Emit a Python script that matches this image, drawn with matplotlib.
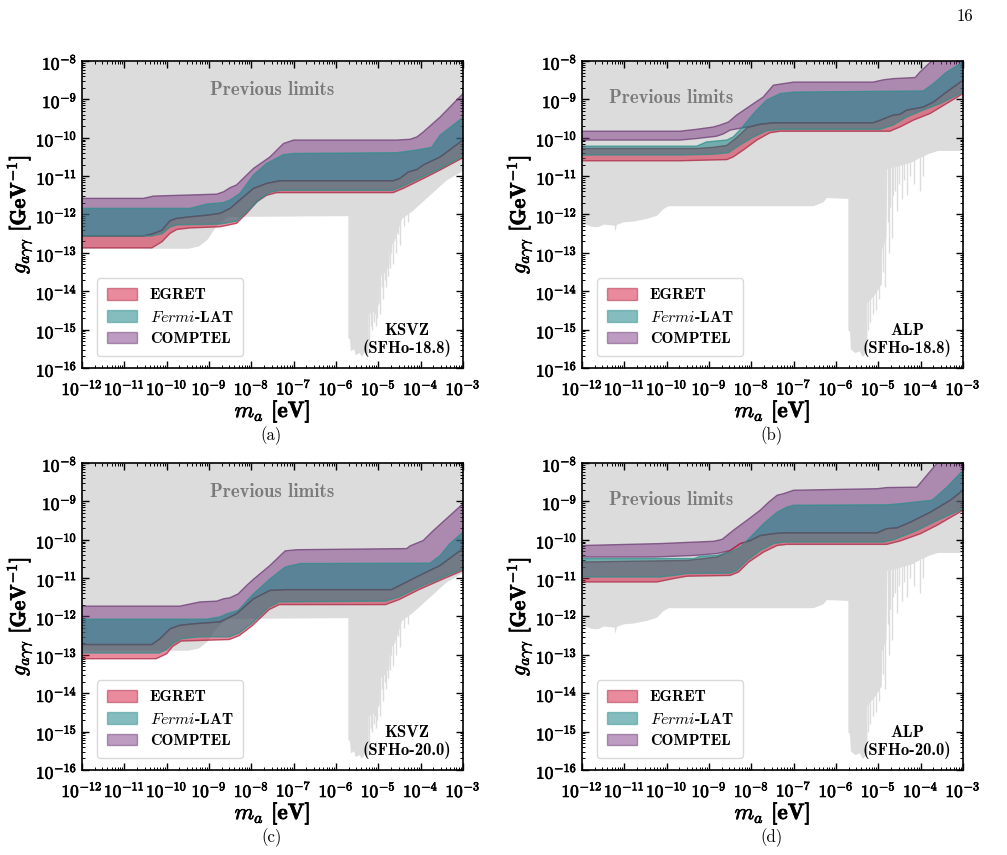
import numpy as np
import matplotlib
matplotlib.use('Agg')
import matplotlib.pyplot as plt
import matplotlib.patheffects as pe
from matplotlib.patches import Patch
from matplotlib.ticker import LogLocator, NullFormatter, FuncFormatter

plt.rcParams['font.family'] = 'cmb10'
plt.rcParams['mathtext.fontset'] = 'cm'
plt.rcParams['axes.unicode_minus'] = False

# all values are (log10 m_a [eV], log10 g [GeV^-1])

# previous limits: lower edge of the grey region
GRAY_KSVZ = [(-12, -12.88), (-9.5, -12.88), (-9.25, -12.82), (-9.05, -12.65), (-8.9, -12.4),
             (-8.75, -12.2), (-8.55, -12.05), (-5.72, -12.03), (-5.72, -15.2), (-5.68, -15.25),
             (-5.66, -15.55), (-5.58, -15.5), (-5.55, -15.65), (-5.45, -15.6), (-5.4, -15.7),
             (-5.32, -15.55), (-5.26, -15.65), (-5.24, -15.6), (-5.24, -14.6), (-5.1, -14.5),
             (-4.98, -14.3), (-4.97, -13.6), (-4.85, -13.5), (-4.75, -13.3), (-4.74, -12.9),
             (-4.6, -12.6), (-4.45, -12.1), (-4.2, -11.9), (-4.0, -11.7), (-3.7, -11.4),
             (-3.4, -11.1), (-3.0, -10.85)]
GRAY_ALP = [(-12, -12.28), (-11.9, -12.25), (-11.81, -12.3), (-11.7, -12.32), (-11.61, -12.31),
            (-11.5, -12.25), (-11.3, -12.27), (-11.24, -12.28), (-11.22, -12.45), (-11.19, -12.26),
            (-11.17, -12.25), (-11.02, -12.19), (-10.79, -12.17), (-10.47, -12.10), (-10.24, -12.02),
            (-10.08, -11.84), (-9.96, -11.77), (-6.54, -11.77), (-6.31, -11.67), (-6.23, -11.56),
            (-5.72, -11.58), (-5.72, -15.0), (-5.68, -15.05), (-5.66, -15.5), (-5.55, -15.6),
            (-5.45, -15.55), (-5.38, -15.7), (-5.3, -15.6), (-5.27, -15.6), (-5.27, -14.3),
            (-5.1, -14.1), (-4.93, -13.8), (-4.92, -12.9), (-4.82, -12.6), (-4.8, -10.8),
            (-4.5, -10.72), (-4.2, -10.62), (-4.0, -10.5), (-3.8, -10.4), (-3.6, -10.33),
            (-3.0, -10.33)]
SPIKES_KSVZ = [(-5.22, -15.3), (-5.18, -14.9), (-5.15, -15.0), (-5.11, -14.8), (-5.08, -14.6),
               (-5.05, -14.9), (-5.02, -14.7), (-4.95, -14.6), (-4.92, -13.9), (-4.88, -14.2),
               (-4.85, -13.7), (-4.81, -13.9), (-4.78, -13.6), (-4.72, -13.4), (-4.70, -13.0),
               (-4.66, -13.3), (-4.62, -12.7), (-4.58, -13.0), (-4.53, -12.5), (-4.49, -12.8),
               (-4.4, -12.3), (-4.3, -12.2)]
SPIKES_ALP = [(-5.25, -15.0), (-5.2, -14.8), (-5.12, -14.6), (-5.05, -14.5), (-4.98, -14.2),
              (-4.9, -13.5), (-4.85, -13.9), (-4.78, -12.2), (-4.75, -13.0), (-4.72, -11.8),
              (-4.68, -12.6), (-4.65, -11.5), (-4.6, -11.4), (-4.55, -11.9), (-4.5, -11.2),
              (-4.45, -11.6), (-4.4, -11.1), (-4.32, -11.5), (-4.25, -11.0), (-4.15, -11.2),
              (-4.02, -11.4), (-3.95, -11.0)]

# (a) KSVZ, SFHo-18.8
A_E_LO = [(-12, -12.87), (-10.35, -12.87), (-10.11, -12.71), (-9.92, -12.49), (-9.76, -12.39),
          (-9.45, -12.35), (-8.74, -12.32), (-8.35, -12.23), (-8.11, -11.97), (-7.87, -11.67),
          (-7.64, -11.50), (-7.4, -11.43), (-4.65, -11.43), (-4.41, -11.32), (-4.17, -11.19),
          (-3.86, -11.02), (-3.54, -10.84), (-3.0, -10.52)]
A_C_LO = [(-12, -12.56), (-10.55, -12.56), (-10.35, -12.51), (-10.11, -12.41), (-9.92, -12.16),
          (-9.76, -12.10), (-9.45, -12.06), (-9.06, -12.02), (-8.74, -11.97), (-8.50, -11.84),
          (-8.27, -11.62), (-7.95, -11.32), (-7.64, -11.19), (-7.32, -11.12), (-4.65, -11.12),
          (-4.49, -11.06), (-4.29, -10.89), (-4.09, -10.83), (-3.94, -10.71), (-3.54, -10.50),
          (-3.0, -10.06)]
A_E_HI = A_C_LO
A_F_LO = [(-12, -12.56), (-10.35, -12.56), (-10.11, -12.50), (-9.92, -12.33), (-9.76, -12.27),
          (-8.74, -12.25), (-8.35, -12.17), (-8.03, -11.85), (-7.8, -11.6), (-7.56, -11.42),
          (-7.32, -11.37), (-4.65, -11.37), (-4.41, -11.26), (-4.17, -11.13), (-3.86, -10.97),
          (-3.54, -10.80), (-3.0, -10.48)]
A_F_HI = [(-12, -11.84), (-9.45, -11.84), (-9.06, -11.73), (-8.66, -11.69), (-8.50, -11.62),
          (-8.27, -11.45), (-7.95, -10.97), (-7.64, -10.67), (-7.24, -10.44), (-7.0, -10.41),
          (-4.57, -10.39), (-4.09, -10.32), (-3.74, -10.25), (-3.54, -9.93), (-3.0, -9.47)]
A_C_HI = [(-12, -11.58), (-10.55, -11.58), (-10.31, -11.52), (-8.82, -11.47), (-8.66, -11.41),
          (-8.50, -11.30), (-8.35, -11.23), (-7.95, -10.80), (-7.56, -10.50), (-7.24, -10.15),
          (-7.0, -10.06), (-4.57, -10.06), (-4.25, -10.04), (-4.09, -9.98), (-3.94, -9.85),
          (-3.54, -9.46), (-3.0, -8.85)]

# (b) ALP, SFHo-18.8
B_E_LO = [(-12, -10.60), (-9.69, -10.60), (-8.58, -10.57), (-8.43, -10.50), (-8.19, -10.32),
          (-7.87, -10.06), (-7.56, -9.87), (-7.32, -9.83), (-4.73, -9.83), (-4.49, -9.72),
          (-4.17, -9.54), (-3.78, -9.37), (-3.39, -9.11), (-3.0, -8.85)]
B_E_HI = [(-12, -10.28), (-9.29, -10.28), (-8.9, -10.25), (-8.58, -10.2), (-8.35, -10.0),
          (-8.1, -9.74), (-7.8, -9.65), (-7.48, -9.61), (-5.12, -9.61), (-4.97, -9.55),
          (-4.65, -9.41), (-4.49, -9.39), (-4.33, -9.28), (-3.94, -9.20), (-3.7, -9.07),
          (-3.39, -8.81), (-3.0, -8.50)]
B_F_LO = [(-12, -10.45), (-9.69, -10.45), (-8.90, -10.43), (-8.54, -10.39), (-8.27, -10.19),
          (-7.95, -9.98), (-7.64, -9.82), (-7.32, -9.78), (-4.96, -9.78), (-4.65, -9.67),
          (-4.33, -9.46), (-3.94, -9.28), (-3.54, -9.11), (-3.0, -8.81)]
B_F_HI = [(-12, -10.22), (-9.29, -10.22), (-9.06, -10.11), (-8.58, -10.06), (-8.43, -9.98),
          (-8.27, -9.80), (-7.95, -9.37), (-7.64, -9.02), (-7.32, -8.85), (-7.0, -8.81),
          (-3.94, -8.78), (-3.70, -8.59), (-3.39, -8.29), (-3.0, -8.03)]
B_C_LO = [(-12, -10.06), (-9.69, -10.06), (-9.29, -10.02), (-8.82, -9.96), (-8.66, -9.90),
          (-8.5, -9.80), (-8.1, -9.72), (-7.8, -9.65), (-7.48, -9.61), (-5.12, -9.61),
          (-4.97, -9.55), (-4.65, -9.41), (-4.49, -9.39), (-4.33, -9.28), (-3.94, -9.20),
          (-3.7, -9.07), (-3.39, -8.81), (-3.0, -8.50)]
B_C_HI = [(-12, -9.83), (-9.69, -9.83), (-9.29, -9.78), (-8.90, -9.72), (-8.74, -9.67),
          (-8.54, -9.59), (-8.35, -9.41), (-7.95, -9.11), (-7.72, -8.94), (-7.48, -8.63),
          (-7.24, -8.59), (-7.0, -8.55), (-5.12, -8.55), (-4.88, -8.49), (-4.65, -8.46),
          (-4.13, -8.43), (-4.02, -8.29), (-3.74, -8.0), (-3.0, -7.4)]

# (c) KSVZ, SFHo-20.0
C_E_LO = [(-12, -13.10), (-10.25, -13.10), (-10.0, -12.97), (-9.86, -12.78), (-9.66, -12.64),
          (-8.52, -12.60), (-8.29, -12.50), (-7.98, -12.24), (-7.58, -11.82), (-7.34, -11.69),
          (-4.83, -11.69), (-4.51, -11.56), (-4.04, -11.30), (-3.57, -11.07), (-3.0, -10.80)]
C_C_LO = [(-12, -12.73), (-10.35, -12.73), (-10.16, -12.58), (-9.92, -12.32), (-9.69, -12.23),
          (-9.37, -12.19), (-8.74, -12.14), (-8.35, -11.93), (-7.95, -11.54), (-7.56, -11.32),
          (-7.17, -11.30), (-4.69, -11.30), (-4.49, -11.19), (-4.17, -11.01), (-3.86, -10.84),
          (-3.54, -10.67), (-3.0, -10.23)]
C_E_HI = C_C_LO
C_F_LO = [(-12, -12.95), (-10.18, -12.95), (-10.02, -12.87), (-9.86, -12.71), (-9.66, -12.58),
          (-9.23, -12.53), (-8.52, -12.53), (-8.29, -12.43), (-7.98, -12.17), (-7.58, -11.75),
          (-7.34, -11.62), (-4.83, -11.60), (-4.51, -11.49), (-4.04, -11.24), (-3.57, -11.02),
          (-3.0, -10.76)]
C_F_HI = [(-12, -12.07), (-9.06, -12.07), (-8.74, -12.01), (-8.58, -11.93), (-8.31, -11.84),
          (-7.95, -11.41), (-7.56, -11.02), (-7.20, -10.71), (-6.85, -10.62), (-3.78, -10.61),
          (-3.54, -10.41), (-3.31, -10.10), (-3.0, -9.80)]
C_C_HI = [(-12, -11.73), (-9.69, -11.73), (-9.21, -11.62), (-8.82, -11.60), (-8.66, -11.54),
          (-8.50, -11.51), (-8.31, -11.41), (-8.11, -11.19), (-7.95, -11.03), (-7.56, -10.67),
          (-7.20, -10.29), (-6.93, -10.26), (-4.33, -10.23), (-4.25, -10.16), (-3.94, -10.02),
          (-3.70, -9.76), (-3.0, -9.06)]

# (d) ALP, SFHo-20.0
D_E_LO = [(-12, -11.10), (-10.23, -11.10), (-9.83, -11.01), (-9.52, -10.95), (-8.5, -10.93),
          (-8.30, -10.84), (-8.06, -10.58), (-7.71, -10.32), (-7.39, -10.15), (-7.16, -10.12),
          (-4.80, -10.12), (-4.48, -10.03), (-4.0, -9.84), (-3.61, -9.62), (-3.0, -9.23)]
D_E_HI = [(-12, -10.58), (-9.52, -10.54), (-8.81, -10.45), (-8.5, -10.28), (-8.26, -10.10),
          (-8.02, -10.02), (-7.79, -9.89), (-7.47, -9.84), (-7.24, -9.82), (-5.03, -9.82),
          (-4.80, -9.71), (-4.56, -9.69), (-4.24, -9.54), (-3.77, -9.28), (-3.30, -8.97),
          (-3.0, -8.71)]
D_F_LO = [(-12, -10.97), (-10.15, -10.97), (-9.83, -10.93), (-9.52, -10.88), (-8.5, -10.87),
          (-8.34, -10.80), (-8.10, -10.54), (-7.79, -10.28), (-7.47, -10.10), (-7.24, -10.06),
          (-4.87, -10.06), (-4.64, -10.0), (-4.48, -9.93), (-4.09, -9.76), (-3.69, -9.54),
          (-3.0, -9.19)]
D_F_HI = [(-12, -10.49), (-9.36, -10.49), (-9.2, -10.43), (-8.81, -10.41), (-8.50, -10.32),
          (-8.26, -10.19), (-8.02, -9.93), (-7.71, -9.58), (-7.39, -9.28), (-7.16, -9.15),
          (-7.0, -9.10), (-4.80, -9.09), (-4.48, -9.06), (-3.73, -8.97), (-3.38, -8.63),
          (-3.0, -8.19)]
D_C_LO = [(-12, -10.45), (-10.31, -10.45), (-9.36, -10.41), (-8.81, -10.36), (-8.50, -10.28),
          (-8.26, -10.10), (-8.02, -10.02), (-7.79, -9.89), (-7.47, -9.84), (-7.24, -9.82),
          (-5.03, -9.82), (-4.80, -9.71), (-4.56, -9.69), (-4.24, -9.54), (-3.77, -9.28),
          (-3.30, -8.97), (-3.0, -8.71)]
D_C_HI = [(-12, -10.15), (-10.15, -10.10), (-8.89, -10.04), (-8.69, -9.99), (-8.42, -9.75),
          (-8.10, -9.49), (-7.79, -9.23), (-7.59, -9.02), (-7.39, -8.84), (-7.24, -8.80),
          (-7.0, -8.71), (-5.03, -8.67), (-4.80, -8.64), (-4.09, -8.63), (-3.61, -8.0),
          (-3.0, -7.5)]

PANELS = [
    ('(a)', 'KSVZ', 'SFHo-18.8', GRAY_KSVZ, SPIKES_KSVZ, (0.50, 0.905),
     [A_E_LO, A_E_HI, A_F_LO, A_F_HI, A_C_LO, A_C_HI]),
    ('(b)', 'ALP', 'SFHo-18.8', GRAY_ALP, SPIKES_ALP, (0.235, 0.878),
     [B_E_LO, B_E_HI, B_F_LO, B_F_HI, B_C_LO, B_C_HI]),
    ('(c)', 'KSVZ', 'SFHo-20.0', GRAY_KSVZ, SPIKES_KSVZ, (0.50, 0.905),
     [C_E_LO, C_E_HI, C_F_LO, C_F_HI, C_C_LO, C_C_HI]),
    ('(d)', 'ALP', 'SFHo-20.0', GRAY_ALP, SPIKES_ALP, (0.235, 0.878),
     [D_E_LO, D_E_HI, D_F_LO, D_F_HI, D_C_LO, D_C_HI]),
]

GRAY = '#dcdcdc'
EGRET_C, EGRET_E = '#d6163c', '#a8263f'
FERMI_C, FERMI_E = '#0c7d80', '#2f8f8c'
COMPT_C, COMPT_E = '#7e3a86', '#6b3a72'
ALPHA = 0.5
BOLD = [pe.withStroke(linewidth=0.5, foreground='black')]


def xy(curve):
    c = np.array(curve, dtype=float)
    return 10.0 ** c[:, 0], 10.0 ** c[:, 1]


def band(ax, lo, hi, face, edge, z):
    xl, yl = xy(lo)
    xh, yh = xy(hi)
    ax.fill(np.concatenate([xh, xl[::-1]]), np.concatenate([yh, yl[::-1]]),
            facecolor=face, alpha=ALPHA, edgecolor='none', zorder=z)
    ax.plot(xh, yh, color=edge, lw=1.0, alpha=0.75, zorder=z + 0.5)
    ax.plot(xl, yl, color=edge, lw=1.0, alpha=0.75, zorder=z + 0.5)


def decade(v, pos):
    return r'$10^{%d}$' % int(round(np.log10(v)))


fig = plt.figure(figsize=(10.07, 8.55), dpi=100)
W, H = 1007.0, 855.0
boxes = [(82, 61), (582, 61), (82, 463), (582, 463)]
aw, ah = 381.0, 307.0

for (tag, model, eos, gray, spikes, ptxt, curves), (x0, y0) in zip(PANELS, boxes):
    ax = fig.add_axes([x0 / W, 1 - (y0 + ah) / H, aw / W, ah / H])
    e_lo, e_hi, f_lo, f_hi, c_lo, c_hi = curves

    gx, gy = xy(gray)
    ax.fill_between(gx, gy, 1e-8, color=GRAY, lw=0, zorder=1)
    sx, sy = xy(spikes)
    ax.vlines(sx, sy, 1e-10, color=GRAY, lw=1.0, zorder=1)
    ax.text(ptxt[0], ptxt[1], 'Previous limits', transform=ax.transAxes, ha='center',
            va='center', fontsize=13.5, color='#7a7a7a', zorder=2)

    band(ax, c_lo, c_hi, COMPT_C, COMPT_E, 3)
    band(ax, e_lo, e_hi, EGRET_C, EGRET_E, 4)
    band(ax, f_lo, f_hi, FERMI_C, FERMI_E, 5)

    ax.set_xscale('log')
    ax.set_yscale('log')
    ax.set_xlim(1e-12, 1e-3)
    ax.set_ylim(1e-16, 1e-8)
    ax.xaxis.set_major_locator(LogLocator(base=10, numticks=20))
    ax.yaxis.set_major_locator(LogLocator(base=10, numticks=20))
    ax.xaxis.set_major_formatter(FuncFormatter(decade))
    ax.yaxis.set_major_formatter(FuncFormatter(decade))
    for axis in (ax.xaxis, ax.yaxis):
        axis.set_minor_locator(LogLocator(base=10, subs=np.arange(2, 10), numticks=200))
        axis.set_minor_formatter(NullFormatter())
    ax.tick_params(which='both', direction='in', top=True, right=True, labelsize=12.5)
    ax.tick_params(which='major', length=5, width=1)
    ax.tick_params(which='minor', length=2.5, width=0.7)
    ax.tick_params(axis='x', pad=7)
    for lab in ax.get_xticklabels() + ax.get_yticklabels():
        lab.set_path_effects(BOLD)
    for sp in ax.spines.values():
        sp.set_linewidth(1.2)
        sp.set_zorder(10)

    ax.set_xlabel(r'$m_a$ [eV]', fontsize=16, labelpad=0, path_effects=BOLD)
    ax.set_ylabel(r'$g_{a\gamma\gamma}$ [GeV$^{-1}$]', fontsize=15.5, labelpad=1,
                  path_effects=BOLD)

    ax.text(0.97, 0.035, model + '\n(' + eos + ')', transform=ax.transAxes, ha='right',
            va='bottom', multialignment='center', fontsize=12, zorder=6, linespacing=1.1)

    handles = [Patch(facecolor=EGRET_C, edgecolor=EGRET_E, alpha=ALPHA, label='EGRET'),
               Patch(facecolor=FERMI_C, edgecolor=FERMI_E, alpha=ALPHA, label=r'$Fermi$-LAT'),
               Patch(facecolor=COMPT_C, edgecolor=COMPT_E, alpha=ALPHA, label='COMPTEL')]
    leg = ax.legend(handles=handles, loc='lower left', bbox_to_anchor=(0.04, 0.04),
                    borderaxespad=0, fontsize=11.5, handlelength=1.9, handleheight=0.75,
                    fancybox=True, framealpha=0.8, edgecolor='#d0d0d0', borderpad=0.6,
                    labelspacing=0.45)
    leg.set_zorder(7)

    fig.text((x0 + aw / 2 - 1) / W, 1 - (y0 + 375) / H, tag, ha='center', va='center',
             fontsize=12, family='cmr10')

fig.text(965 / W, 1 - 16 / H, '16', ha='center', va='center', fontsize=12, family='cmr10')

fig.savefig('out.png', dpi=100)
